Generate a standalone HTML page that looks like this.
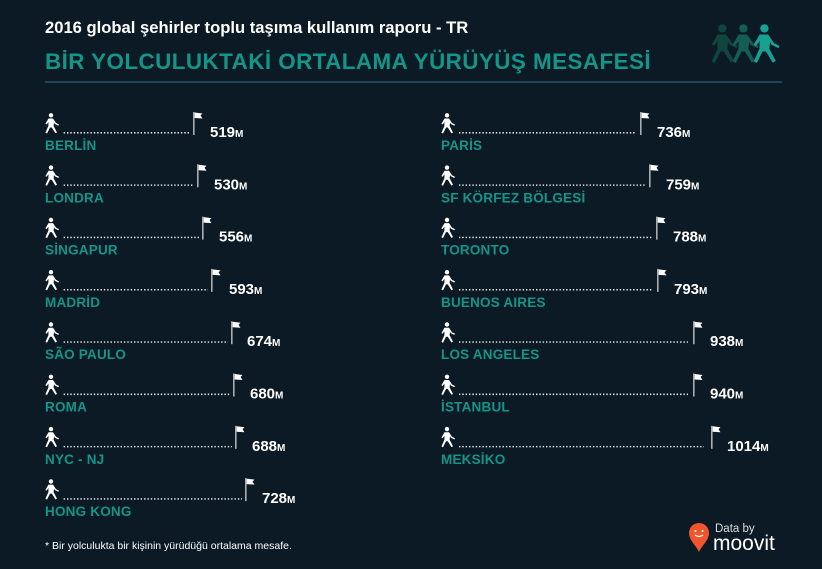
<!DOCTYPE html>
<html><head><meta charset="utf-8"><style>
html,body{margin:0;padding:0;background:#0c1a25;}
svg{display:block}
text{font-family:"Liberation Sans",sans-serif;}
.v{fill:#fff;font-weight:bold;font-size:15px;}
.v tspan{font-size:10px;}
.l{fill:#14958a;font-weight:bold;font-size:13.5px;letter-spacing:0.2px;}
</style></head><body>
<svg width="822" height="569" viewBox="0 0 822 569" xmlns="http://www.w3.org/2000/svg">
<defs>
<g id="w">
<circle cx="6" cy="2.3" r="2.2"/>
<path d="M3.5 5.5 L8 5.5 L11 10 L14 11.5 L13.4 12.7 L9.8 11 L9 9.5 L8.6 13 L12 19.5 L10.4 20.3 L6.8 14.5 L5 14.5 L2 20.5 L0.4 19.7 L3.4 13 L3.5 9 L1.6 11.5 L0.4 10.8 Z"/>
</g>
<g id="f">
<rect x="0" y="0" width="1.6" height="23" fill="#a9adb0"/>
<path d="M1.6 0.5 L9.5 1.5 L7.5 3.5 L9.5 6.5 L1.6 6 Z" fill="#fff"/>
</g>
<pattern id="d" width="3.35" height="3" patternUnits="userSpaceOnUse"><rect x="0" y="0" width="1.4" height="1.6" fill="#e8eaec"/></pattern>
</defs>
<text x="45" y="33" fill="#fff" font-size="16.6" font-weight="bold">2016 global şehirler toplu taşıma kullanım raporu - TR</text>
<text x="45" y="69" fill="#14958a" font-size="22.4" font-weight="bold" letter-spacing="0.45">BİR YOLCULUKTAKİ ORTALAMA YÜRÜYÜŞ MESAFESİ</text>
<rect x="45" y="81" width="737" height="2" fill="#1d4659"/>
<g transform="translate(711,24) scale(1.9)" fill="#10443f"><use href="#w"/></g>
<g transform="translate(732,24) scale(1.9)" fill="#135d56"><use href="#w"/></g>
<g transform="translate(753,24) scale(1.9)" fill="#17a192"><use href="#w"/></g>
<g fill="#fff">
<g><use href="#w" x="45" y="113"/><rect x="62" y="132" width="128" height="2" fill="url(#d)"/><use href="#f" x="193" y="112"/><text class="v" x="210" y="137">519<tspan>M</tspan></text><text class="l" x="45" y="150">BERLİN</text></g>
<g transform="translate(0,52.3)"><use href="#w" x="45" y="113"/><rect x="62" y="132" width="132" height="2" fill="url(#d)"/><use href="#f" x="197" y="112"/><text class="v" x="214" y="137">530<tspan>M</tspan></text><text class="l" x="45" y="150">LONDRA</text></g>
<g transform="translate(0,104.6)"><use href="#w" x="45" y="113"/><rect x="62" y="132" width="137" height="2" fill="url(#d)"/><use href="#f" x="202" y="112"/><text class="v" x="219" y="137">556<tspan>M</tspan></text><text class="l" x="45" y="150">SİNGAPUR</text></g>
<g transform="translate(0,156.9)"><use href="#w" x="45" y="113"/><rect x="62" y="132" width="146" height="2" fill="url(#d)"/><use href="#f" x="211" y="112"/><text class="v" x="229" y="137">593<tspan>M</tspan></text><text class="l" x="45" y="150">MADRİD</text></g>
<g transform="translate(0,209.2)"><use href="#w" x="45" y="113"/><rect x="62" y="132" width="166" height="2" fill="url(#d)"/><use href="#f" x="231" y="112"/><text class="v" x="247" y="137">674<tspan>M</tspan></text><text class="l" x="45" y="150">SÃO PAULO</text></g>
<g transform="translate(0,261.5)"><use href="#w" x="45" y="113"/><rect x="62" y="132" width="168" height="2" fill="url(#d)"/><use href="#f" x="233" y="112"/><text class="v" x="250" y="137">680<tspan>M</tspan></text><text class="l" x="45" y="150">ROMA</text></g>
<g transform="translate(0,313.8)"><use href="#w" x="45" y="113"/><rect x="62" y="132" width="170" height="2" fill="url(#d)"/><use href="#f" x="235" y="112"/><text class="v" x="252" y="137">688<tspan>M</tspan></text><text class="l" x="45" y="150">NYC - NJ</text></g>
<g transform="translate(0,366.1)"><use href="#w" x="45" y="113"/><rect x="62" y="132" width="180" height="2" fill="url(#d)"/><use href="#f" x="245" y="112"/><text class="v" x="262" y="137">728<tspan>M</tspan></text><text class="l" x="45" y="150">HONG KONG</text></g>
<g><use href="#w" x="441" y="113"/><rect x="458" y="132" width="178" height="2" fill="url(#d)"/><use href="#f" x="640" y="112"/><text class="v" x="657" y="137">736<tspan>M</tspan></text><text class="l" x="441" y="150">PARİS</text></g>
<g transform="translate(0,52.3)"><use href="#w" x="441" y="113"/><rect x="458" y="132" width="187" height="2" fill="url(#d)"/><use href="#f" x="649" y="112"/><text class="v" x="666" y="137">759<tspan>M</tspan></text><text class="l" x="441" y="150">SF KÖRFEZ BÖLGESİ</text></g>
<g transform="translate(0,104.6)"><use href="#w" x="441" y="113"/><rect x="458" y="132" width="194" height="2" fill="url(#d)"/><use href="#f" x="656" y="112"/><text class="v" x="673" y="137">788<tspan>M</tspan></text><text class="l" x="441" y="150">TORONTO</text></g>
<g transform="translate(0,156.9)"><use href="#w" x="441" y="113"/><rect x="458" y="132" width="195" height="2" fill="url(#d)"/><use href="#f" x="657" y="112"/><text class="v" x="674" y="137">793<tspan>M</tspan></text><text class="l" x="441" y="150">BUENOS AIRES</text></g>
<g transform="translate(0,209.2)"><use href="#w" x="441" y="113"/><rect x="458" y="132" width="230" height="2" fill="url(#d)"/><use href="#f" x="693" y="112"/><text class="v" x="710" y="137">938<tspan>M</tspan></text><text class="l" x="441" y="150">LOS ANGELES</text></g>
<g transform="translate(0,261.5)"><use href="#w" x="441" y="113"/><rect x="458" y="132" width="230" height="2" fill="url(#d)"/><use href="#f" x="693" y="112"/><text class="v" x="710" y="137">940<tspan>M</tspan></text><text class="l" x="441" y="150">İSTANBUL</text></g>
<g transform="translate(0,313.8)"><use href="#w" x="441" y="113"/><rect x="458" y="132" width="246" height="2" fill="url(#d)"/><use href="#f" x="711" y="112"/><text class="v" x="727" y="137">1014<tspan>M</tspan></text><text class="l" x="441" y="150">MEKSİKO</text></g>
</g>
<text x="45" y="549" fill="#fff" font-size="10.5">* Bir yolculukta bir kişinin yürüdüğü ortalama mesafe.</text>
<path d="M699 523 a10 10 0 0 1 10 10 c0 7 -6 11 -10 19 c-4 -8 -10 -12 -10 -19 a10 10 0 0 1 10 -10 z" fill="#f0552e"/>
<circle cx="695.5" cy="531" r="1" fill="#fff"/><circle cx="702.5" cy="531" r="1" fill="#fff"/>
<path d="M695 535 q4 3 8 0" stroke="#fff" stroke-width="1.2" fill="none"/>
<text x="715" y="532" fill="#ddd" font-size="11.5">Data by</text>
<text x="713" y="550" fill="#fff" font-size="21">moovit</text>
</svg>
</body></html>
